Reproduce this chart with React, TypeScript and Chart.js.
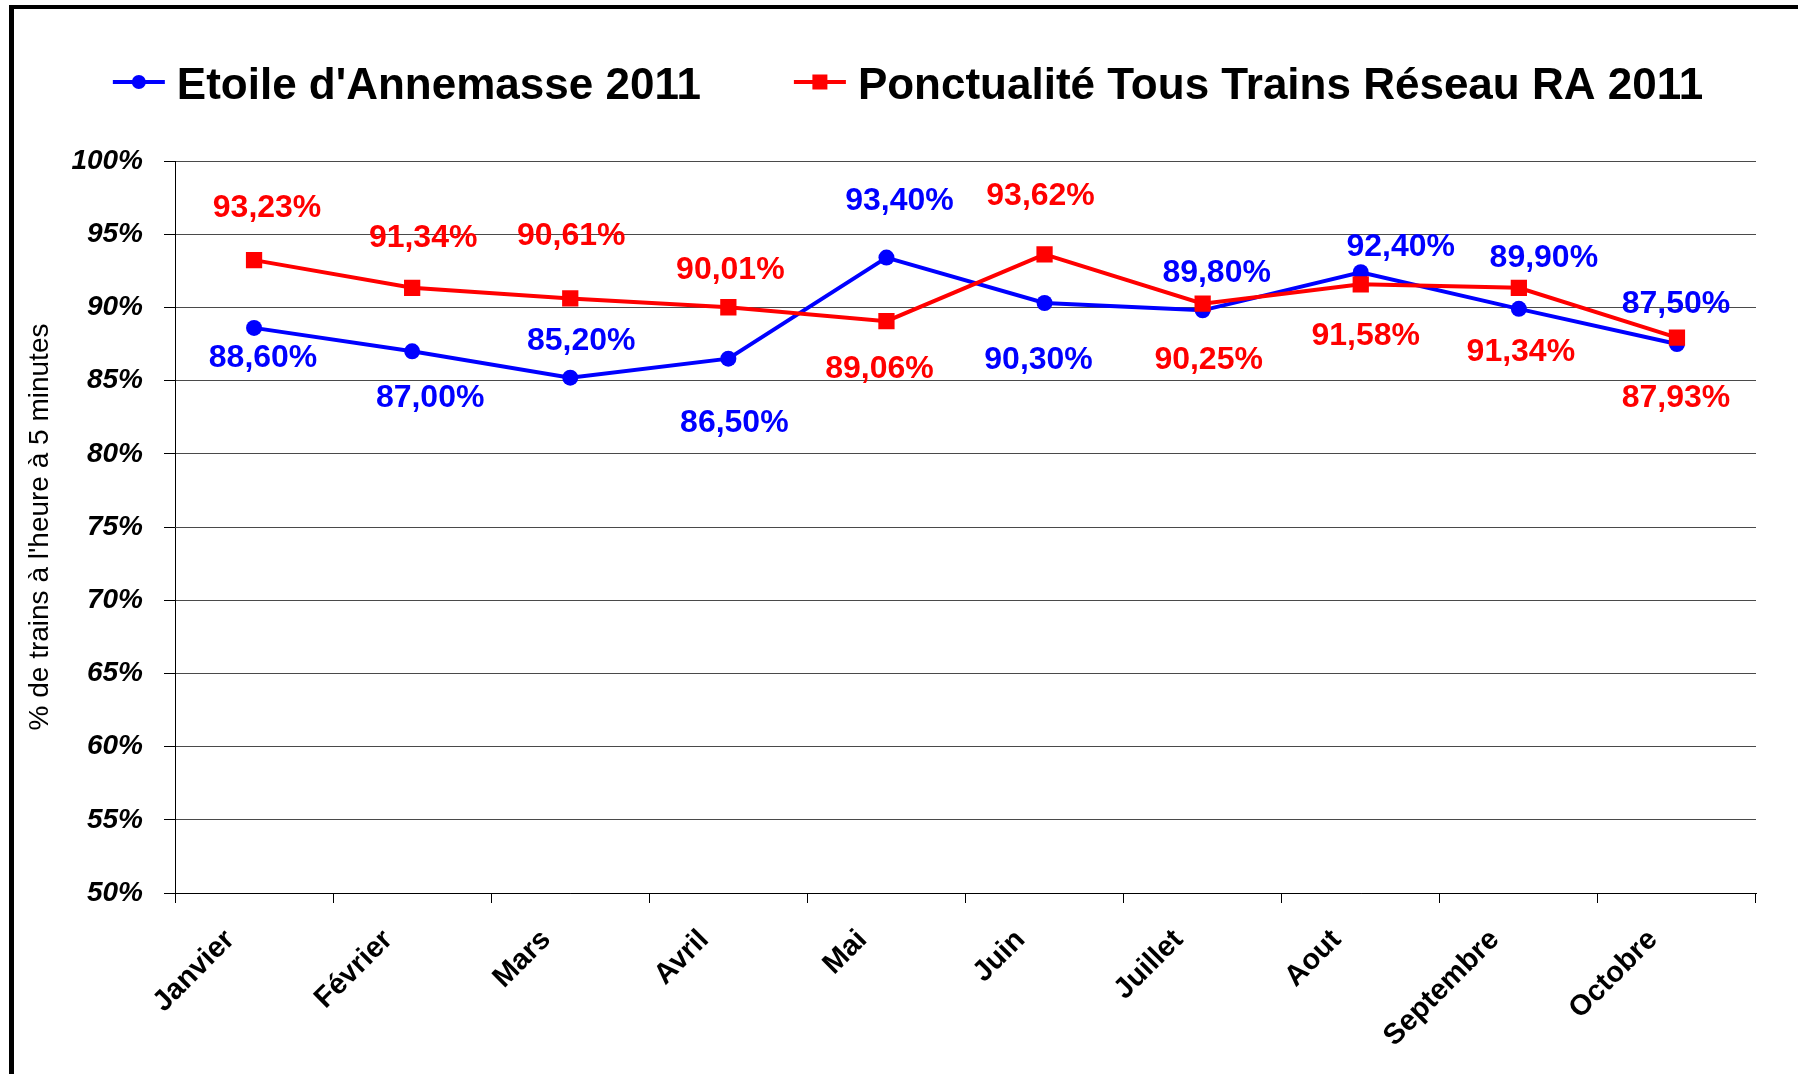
import React, { useEffect, useRef } from 'react';
import { Chart, registerables } from 'chart.js';

Chart.register(...registerables);

// ---- data ----
const months = ['Janvier', 'Février', 'Mars', 'Avril', 'Mai', 'Juin', 'Juillet', 'Aout', 'Septembre', 'Octobre'];
const etoileAnnemasse2011 = [88.6, 87.0, 85.2, 86.5, 93.4, 90.3, 89.8, 92.4, 89.9, 87.5];
const reseauRA2011 = [93.23, 91.34, 90.61, 90.01, 89.06, 93.62, 90.25, 91.58, 91.34, 87.93];
const seriesNames = ["Etoile d'Annemasse 2011", 'Ponctualité Tous Trains Réseau RA 2011'];
const yAxisTitle = "% de trains à l'heure à 5 minutes";
const yMin = 50;
const yMax = 100;
const yStep = 5;

// ---- label placement (pixels, relative to the point) ----
const etoileLabelOffsets: [number, number][] = [
  [9, 30], [18, 47], [11, -37], [6, 65], [13, -56], [-6, 57], [14, -37], [40, -25], [25, -51], [-1, -40],
];
const reseauLabelOffsets: [number, number][] = [
  [13, -52], [11, -50], [1, -62], [2, -37], [-7, 48], [-4, -58], [6, 56], [5, 52], [2, 64], [-1, 60],
];

const FONT = '"Liberation Sans", Arial, Helvetica, sans-serif';
const BLUE = '#0000FF';
const RED = '#FF0000';

const fmtPct = (v: number) => v.toFixed(2).replace('.', ',') + '%';

const legendPlugin = {
  id: 'lineMarkerLegend',
  afterDraw(chart: any) {
    const ctx = chart.ctx as CanvasRenderingContext2D;
    ctx.save();
    ctx.font = `bold 44px ${FONT}`;
    const symW = 52;
    const gapText = 12;
    const gapItem = 93;
    const items = chart.data.datasets.map((ds: any) => ({
      text: ds.label as string,
      color: ds.borderColor as string,
      style: ds.pointStyle as string,
      w: ctx.measureText(ds.label).width,
    }));
    const total = items.reduce((s: number, it: any) => s + symW + gapText + it.w, 0) + gapItem * (items.length - 1);
    let x = 908 - total / 2;
    const symY = 82;
    const baseY = 99;
    for (const it of items) {
      ctx.strokeStyle = it.color;
      ctx.lineWidth = 4;
      ctx.beginPath();
      ctx.moveTo(x, symY);
      ctx.lineTo(x + symW, symY);
      ctx.stroke();
      ctx.fillStyle = it.color;
      if (it.style === 'rect') {
        ctx.fillRect(x + symW / 2 - 7.5, symY - 7.5, 15, 15);
      } else {
        ctx.beginPath();
        ctx.arc(x + symW / 2, symY, 7, 0, Math.PI * 2);
        ctx.fill();
      }
      ctx.fillStyle = '#000';
      ctx.textAlign = 'left';
      ctx.textBaseline = 'alphabetic';
      ctx.fillText(it.text, x + symW + gapText, baseY);
      x += symW + gapText + it.w + gapItem;
    }
    ctx.restore();
  },
};

const valueLabelPlugin = {
  id: 'valueLabels',
  afterDatasetsDraw(chart: any) {
    const ctx = chart.ctx as CanvasRenderingContext2D;
    ctx.save();
    ctx.font = `bold 32px ${FONT}`;
    ctx.textAlign = 'center';
    ctx.textBaseline = 'middle';
    chart.data.datasets.forEach((ds: any, di: number) => {
      const meta = chart.getDatasetMeta(di);
      const offs = ds.labelOffsets as [number, number][];
      meta.data.forEach((pt: any, i: number) => {
        ctx.fillStyle = ds.borderColor;
        ctx.fillText(fmtPct(ds.data[i]), pt.x + offs[i][0], pt.y + offs[i][1]);
      });
    });
    ctx.restore();
  },
};

export default function App() {
  const canvasRef = useRef<HTMLCanvasElement | null>(null);

  useEffect(() => {
    if (!canvasRef.current) return;
    const chart = new Chart(canvasRef.current, {
      type: 'line',
      data: {
        labels: months,
        datasets: [
          {
            label: seriesNames[0],
            data: etoileAnnemasse2011,
            borderColor: BLUE,
            backgroundColor: BLUE,
            borderWidth: 4,
            pointStyle: 'circle',
            pointRadius: 8,
            pointBorderWidth: 0,
            pointBackgroundColor: BLUE,
            tension: 0,
            order: 1,
            labelOffsets: etoileLabelOffsets,
          } as any,
          {
            label: seriesNames[1],
            data: reseauRA2011,
            borderColor: RED,
            backgroundColor: RED,
            borderWidth: 4,
            pointStyle: 'rect',
            pointRadius: 11.5,
            pointBorderWidth: 0,
            pointBackgroundColor: RED,
            tension: 0,
            order: 0,
            labelOffsets: reseauLabelOffsets,
          } as any,
        ],
      },
      options: {
        responsive: false,
        maintainAspectRatio: false,
        animation: false,
        devicePixelRatio: 1,
        layout: { padding: { top: 161, right: 42, left: 0, bottom: 0 } },
        plugins: {
          legend: { display: false },
          tooltip: { enabled: false },
          title: { display: false },
        },
        scales: {
          x: {
            type: 'category',
            offset: true,
            grid: {
              offset: true,
              drawOnChartArea: false,
              drawTicks: true,
              tickLength: 10,
              color: '#000',
              tickColor: '#000',
            },
            border: { display: true, color: '#000', width: 1 },
            ticks: {
              autoSkip: false,
              maxRotation: 45,
              minRotation: 45,
              padding: 20,
              labelOffset: -24,
              color: '#000',
              font: { family: FONT, size: 29, weight: 'bold' },
            },
            afterFit: (s: any) => {
              s.height = 181;
            },
          },
          y: {
            min: yMin,
            max: yMax,
            ticks: {
              stepSize: yStep,
              padding: 21,
              color: '#000',
              font: { family: FONT, size: 28, weight: 'bold', style: 'italic' },
              callback: (v: any) => `${v}%`,
            },
            grid: {
              color: '#4a4a4a',
              lineWidth: 1,
              tickLength: 11,
              tickColor: '#000',
            },
            border: { display: true, color: '#000', width: 1 },
            title: {
              display: true,
              text: yAxisTitle,
              color: '#000',
              font: { family: FONT, size: 28, weight: 'normal' },
              padding: { top: 23, bottom: 0 },
            },
            afterFit: (s: any) => {
              s.width = 175;
            },
          },
        },
      } as any,
      plugins: [legendPlugin, valueLabelPlugin],
    });
    return () => chart.destroy();
  }, []);

  return (
    <div
      style={{
        position: 'fixed',
        left: 0,
        top: 0,
        width: 1798,
        height: 1074,
        overflow: 'hidden',
        background: '#fff',
      }}
    >
      <div
        style={{
          position: 'absolute',
          left: 9,
          top: 5,
          width: 2200,
          height: 1400,
          borderLeft: '5px solid #000',
          borderTop: '4px solid #000',
        }}
      />
      <canvas
        ref={canvasRef}
        width={1798}
        height={1074}
        style={{ position: 'absolute', left: 0, top: 0, width: 1798, height: 1074 }}
      />
    </div>
  );
}
